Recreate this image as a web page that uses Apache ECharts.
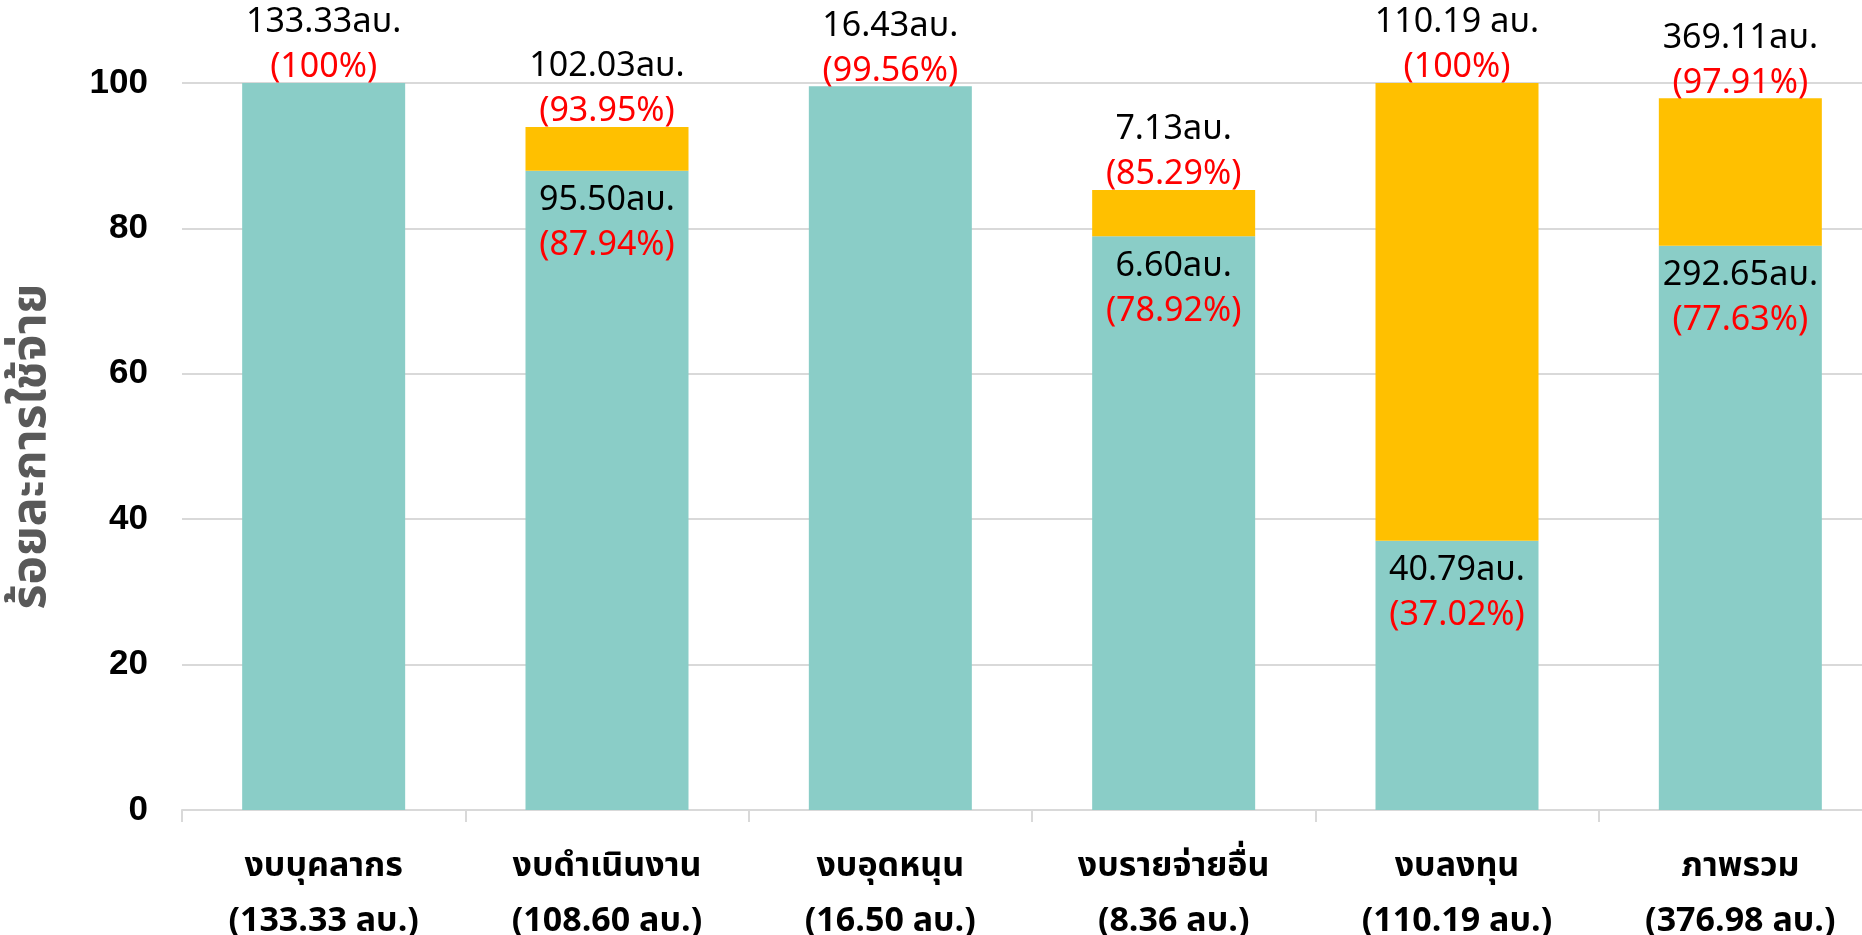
<!DOCTYPE html>
<html>
<head>
<meta charset="utf-8">
<script src="https://cdn.jsdelivr.net/npm/echarts@6/dist/echarts.min.js"></script>
<style>
  html, body { margin: 0; padding: 0; background: #fff; }
  #chart { width: 1862px; height: 935px; }
</style>
</head>
<body>
<div id="chart"></div>
<script>
const categories = ['งบบุคลากร', 'งบดำเนินงาน', 'งบอุดหนุน', 'งบรายจ่ายอื่น', 'งบลงทุน', 'ภาพรวม'];
const budgets = ['133.33 ลบ.', '108.60 ลบ.', '16.50 ลบ.', '8.36 ลบ.', '110.19 ลบ.', '376.98 ลบ.'];

// ร้อยละเบิกจ่าย (ส่วนล่าง) และร้อยละรวม (ยอดบนสุด)
const disbursedPct = [100, 87.94, 99.56, 78.92, 37.02, 77.63];
const totalPct = [100, 93.95, 99.56, 85.29, 100, 97.91];

const topAmount = ['133.33ลบ.', '102.03ลบ.', '16.43ลบ.', '7.13ลบ.', '110.19 ลบ.', '369.11ลบ.'];
const topPctText = ['(100%)', '(93.95%)', '(99.56%)', '(85.29%)', '(100%)', '(97.91%)'];
const innerAmount = ['', '95.50ลบ.', '', '6.60ลบ.', '40.79ลบ.', '292.65ลบ.'];
const innerPctText = ['', '(87.94%)', '', '(78.92%)', '(37.02%)', '(77.63%)'];

const yTicks = [0, 20, 40, 60, 80, 100];

const tealColor = '#8ACDC7';
const goldColor = '#FFC000';
const thaiFont = '"Noto Sans Thai", "Noto Sans", sans-serif';

const extraPct = totalPct.map(function (t, i) {
  return Math.round((t - disbursedPct[i]) * 100) / 100;
});

const labelRich = {
  a: { color: '#000', fontSize: 34, fontFamily: thaiFont, lineHeight: 45 },
  b: { color: '#FF0000', fontSize: 34, fontFamily: thaiFont, lineHeight: 45 }
};

var myChart = echarts.init(document.getElementById('chart'));

var option = {
  animation: false,
  backgroundColor: '#fff',
  grid: {
    left: 182,
    width: 1700,
    top: 83,
    bottom: 125,
    containLabel: false,
    outerBoundsMode: 'none'
  },
  xAxis: {
    type: 'category',
    data: categories,
    axisLine: { lineStyle: { color: '#D9D9D9', width: 2 } },
    axisTick: { show: true, length: 12, lineStyle: { color: '#D9D9D9', width: 2 } },
    axisLabel: {
      margin: 32,
      interval: 0,
      formatter: function (value, idx) {
        return '{c|' + value + '}\n{c|(' + budgets[idx] + ')}';
      },
      rich: {
        c: { fontSize: 34, fontWeight: 'bold', color: '#000', fontFamily: thaiFont, lineHeight: 55 }
      }
    }
  },
  yAxis: {
    type: 'value',
    min: yTicks[0],
    max: yTicks[yTicks.length - 1],
    interval: 20,
    name: 'ร้อยละการใช้จ่าย',
    nameLocation: 'middle',
    nameGap: 123,
    nameRotate: 90,
    nameTextStyle: { fontSize: 48, fontWeight: 'bold', color: '#595959', fontFamily: thaiFont },
    axisLine: { show: false },
    axisTick: { show: false },
    axisLabel: {
      margin: 34,
      fontSize: 35,
      fontWeight: 'bold',
      color: '#000',
      fontFamily: '"Liberation Sans", Arial, sans-serif'
    },
    splitLine: { lineStyle: { color: '#D9D9D9', width: 2 } }
  },
  series: [
    {
      name: 'เบิกจ่าย',
      type: 'bar',
      stack: 'total',
      data: disbursedPct,
      barWidth: 163,
      itemStyle: { color: tealColor },
      label: {
        show: true,
        position: 'insideTop',
        distance: 10,
        formatter: function (p) {
          if (!innerAmount[p.dataIndex]) return '';
          return '{a|' + innerAmount[p.dataIndex] + '}\n{b|' + innerPctText[p.dataIndex] + '}';
        },
        rich: labelRich
      }
    },
    {
      name: 'ผูกพัน',
      type: 'bar',
      stack: 'total',
      data: extraPct,
      barWidth: 163,
      itemStyle: { color: goldColor },
      label: {
        show: true,
        position: 'top',
        distance: -10,
        formatter: function (p) {
          return '{a|' + topAmount[p.dataIndex] + '}\n{b|' + topPctText[p.dataIndex] + '}';
        },
        rich: labelRich
      }
    }
  ]
};

option && myChart.setOption(option);
</script>
</body>
</html>
